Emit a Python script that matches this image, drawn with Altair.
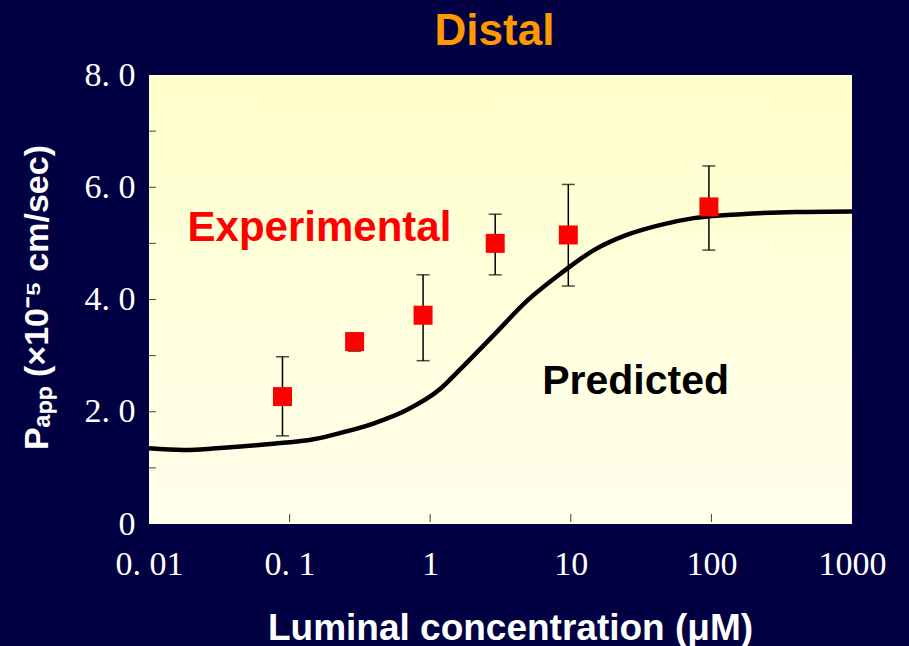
import altair as alt
import pandas as pd

# ---- data ----
conc = [0.089, 0.29, 0.89, 2.9, 9.6, 96]
papp = [2.27, 3.25, 3.72, 5.00, 5.15, 5.65]
err_low = [1.57, 3.08, 2.91, 4.44, 4.24, 4.88]
err_high = [2.98, 3.40, 4.44, 5.52, 6.05, 6.38]

curve_x = [0.01, 0.0175, 0.034, 0.0766, 0.148, 0.228, 0.394, 0.68, 1.17, 1.64,
           2.84, 4.9, 8.45, 14.6, 25, 43.6, 75, 163, 400, 1000]
curve_y = [1.35, 1.32, 1.36, 1.43, 1.51, 1.62, 1.79, 2.03, 2.40, 2.76,
           3.37, 3.98, 4.46, 4.88, 5.15, 5.33, 5.45, 5.52, 5.56, 5.57]

x_label_values = [0.01, 0.1, 1, 10, 100, 1000]
x_minor = [0.1, 1, 10, 100]
y_label_values = [0, 2, 4, 6, 8]
y_minor = [1, 2, 3, 4, 5, 6, 7]

labels_txt = ["Experimental", "Predicted"]
labels_x = [0.163, 28.9]
labels_y = [5.04, 2.32]

title_txt = ["Distal"]

W, H = 703, 449
BG = "#000042"

pts = pd.DataFrame({"x": conc, "y": papp, "lo": err_low, "hi": err_high})
curve = pd.DataFrame({"x": curve_x, "y": curve_y})
xm = pd.DataFrame({"x": x_minor})
ym = pd.DataFrame({"y": y_minor})
ann = pd.DataFrame({"x": labels_x, "y": labels_y, "t": labels_txt})

xscale = alt.Scale(type="log", domain=[0.01, 1000], nice=False)
yscale = alt.Scale(domain=[0, 8], nice=False)

xaxis = alt.Axis(
    values=x_label_values,
    labelExpr="datum.value < 0.05 ? '0. 01' : datum.value < 0.5 ? '0. 1' : format(datum.value, 'd')",
    ticks=False, domain=False, grid=False,
    labelFont="Liberation Serif", labelFontSize=34, labelColor="white",
    labelBaseline="alphabetic", labelPadding=50, labelFlush=False, labelOverlap=False,
    title="Luminal concentration (μM)", titleFont="Liberation Sans",
    titleFontWeight="bold", titleFontSize=37, titleColor="white",
    titleX=361, titleY=115, titleBaseline="alphabetic", titleAlign="center",
)
yaxis = alt.Axis(
    values=y_label_values,
    labelExpr="datum.value == 0 ? '0' : replace(format(datum.value, '.1f'), '.', '. ')",
    ticks=False, domain=False, grid=False,
    labelFont="Liberation Serif", labelFontSize=34, labelColor="white",
    labelPadding=14, labelFlush=False, labelOverlap=False,
    title="Pₐₚₚ (×10⁻⁵ cm/sec)", titleFont="Liberation Sans",
    titleFontWeight="bold", titleFontSize=34, titleColor="white",
    titleAngle=270, titleX=-102, titleY=222, titleBaseline="alphabetic",
    titleAlign="center",
)

X = alt.X("x:Q", scale=xscale, axis=xaxis)
Y = alt.Y("y:Q", scale=yscale, axis=yaxis)

bg = alt.Chart(pd.DataFrame({"a": [0]})).mark_rect(
    color=alt.Gradient(
        gradient="linear", x1=0, x2=0, y1=0, y2=1,
        stops=[alt.GradientStop(offset=0, color="#FFFFCC"),
               alt.GradientStop(offset=1, color="#FFFFEC")],
    )
).encode(x=alt.value(0), x2=alt.value(W), y=alt.value(0), y2=alt.value(H))

line = alt.Chart(curve).mark_line(color="black", strokeWidth=4.5,
                                  interpolate="monotone").encode(x=X, y=Y)

xt = alt.Chart(xm).mark_rule(color="#444444", strokeWidth=1).encode(
    x=X, y=alt.value(H - 10), y2=alt.value(H - 2))
yt = alt.Chart(ym).mark_rule(color="#444444", strokeWidth=1).encode(
    y=Y, x=alt.value(0), x2=alt.value(7))

err = alt.Chart(pts).mark_rule(color="black", strokeWidth=1.5).encode(
    x=X, y=alt.Y("lo:Q", scale=yscale, axis=yaxis), y2="hi:Q")
cap_lo = alt.Chart(pts).mark_tick(color="black", thickness=1.5, size=13,
                                  orient="horizontal").encode(
    x=X, y=alt.Y("lo:Q", scale=yscale, axis=yaxis))
cap_hi = alt.Chart(pts).mark_tick(color="black", thickness=1.5, size=13,
                                  orient="horizontal").encode(
    x=X, y=alt.Y("hi:Q", scale=yscale, axis=yaxis))

sq = alt.Chart(pts).mark_square(color="#FF0000", filled=True, size=361,
                                opacity=1).encode(x=X, y=Y)

txt1 = alt.Chart(ann.iloc[[0]]).mark_text(
    font="Liberation Sans", fontWeight="bold", fontSize=42, align="center",
    baseline="alphabetic", color="#FF0000").encode(x=X, y=Y, text="t:N")
txt2 = alt.Chart(ann.iloc[[1]]).mark_text(
    font="Liberation Sans", fontWeight="bold", fontSize=41, align="center",
    baseline="alphabetic", color="#000000").encode(x=X, y=Y, text="t:N")

ttl = alt.Chart(pd.DataFrame({"t": title_txt})).mark_text(
    font="Liberation Sans", fontWeight="bold", fontSize=44, align="center",
    baseline="alphabetic", color="#FF9900").encode(
    x=alt.value(W / 2 - 6), y=alt.value(-30), text="t:N")

chart = alt.layer(bg, line, xt, yt, err, cap_lo, cap_hi, sq, txt1, txt2, ttl).properties(
    width=W, height=H,
    background=BG,
    autosize=alt.AutoSizeParams(type="none"),
    padding={"left": 149, "top": 75, "right": 57, "bottom": 122},
).configure_view(stroke=None)

chart.save("out.html", embed_options={"renderer": "svg", "actions": False})
